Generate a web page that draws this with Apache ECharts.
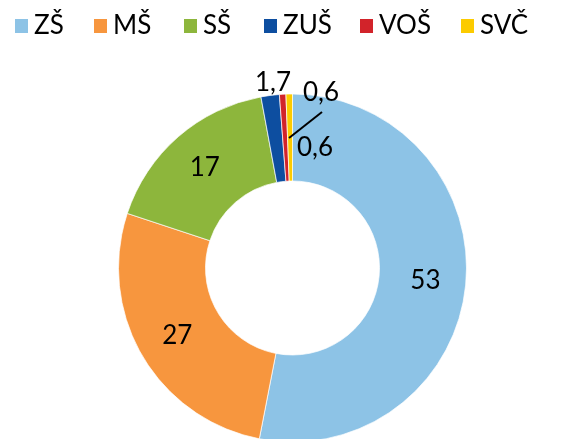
<!DOCTYPE html>
<html><head><meta charset="utf-8">
<script src="https://cdn.jsdelivr.net/npm/echarts@6/dist/echarts.min.js"></script>
<style>html,body{margin:0;padding:0;background:#fff}#c{width:581px;height:439px}</style>
</head><body><div id="c"></div>
<script>
const categories = ['ZŠ', 'MŠ', 'SŠ', 'ZUŠ', 'VOŠ', 'SVČ'];
const values = [53, 27, 17, 1.7, 0.6, 0.6];
const labels = ['53', '27', '17', '1,7', '0,6', '0,6'];
const colors = ['#8DC3E6', '#F7963E', '#8DB63C', '#0D4EA0', '#D2232A', '#FCCB00'];
const legendLeft = [13, 92, 182, 262, 358, 459];

const FONT = 'Lato';
const chart = echarts.init(document.getElementById('c'), null, {renderer: 'canvas'});

const legends = categories.map((c, i) => ({
  data: [c], left: legendLeft[i], top: 13, itemWidth: 15, itemHeight: 16, itemGap: 0,
  icon: 'rect', padding: 0,
  textStyle: {fontFamily: FONT, fontSize: 26, color: '#000', lineHeight: 26}
}));

const data = categories.map((c, i) => {
  const item = {name: c, value: values[i], itemStyle: {color: colors[i]}};
  if (i >= 3) item.label = {position: 'outside'};
  return item;
});

// label placements for the thin slices (relative to chart box)
const smallLabelPos = {
  3: {x: 273, y: 83},
  4: {x: 315, y: 148},
  5: {x: 321, y: 93}
};

chart.setOption({
  animation: false,
  legend: legends,
  graphic: [{
    type: 'line', silent: true, z: 100,
    shape: {x1: 289, y1: 138, x2: 322, y2: 112},
    style: {stroke: '#000', lineWidth: 2}
  }],
  series: [{
    type: 'pie',
    center: [292.5, 268],
    radius: [87, 174],
    startAngle: 90,
    clockwise: true,
    avoidLabelOverlap: false,
    itemStyle: {borderColor: '#fff', borderWidth: 0.7},
    label: {
      show: true, position: 'inside', color: '#000', fontFamily: FONT, fontSize: 26,
      formatter: p => labels[p.dataIndex]
    },
    labelLine: {show: false},
    labelLayout: function (p) {
      const s = smallLabelPos[p.dataIndex];
      if (!s) return {};
      return {x: s.x, y: s.y, align: 'center', verticalAlign: 'middle'};
    },
    emphasis: {disabled: true},
    data: data
  }]
});
</script></body></html>
